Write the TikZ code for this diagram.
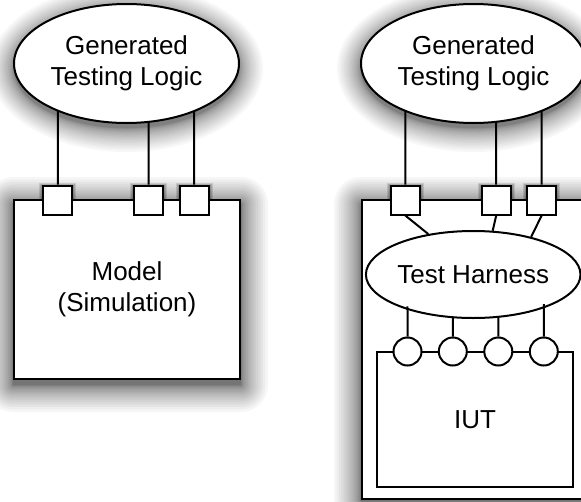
\documentclass[tikz,border=0pt]{standalone}
\usepackage{fontspec}
\setmainfont{Liberation Sans}
\usetikzlibrary{shapes.geometric,intersections}
\pgfdeclarelayer{bg}
\pgfsetlayers{bg,main}
\newcommand\mkrectshadow[1]{%
  \foreach \k in {1,...,20}{%
    \pgfmathsetmacro\dd{27*(\k/20)^2}%
    \fill[black,opacity=0.035,rounded corners=\dd pt]
      ([shift={(-\dd,-\dd+5)}]#1.north west) rectangle ([shift={(\dd,\dd+5)}]#1.south east);
  }}
\newcommand\mkellshadow[3]{%
  \foreach \k in {1,...,20}{%
    \pgfmathsetmacro\dd{24*(\k/20)^2}%
    \fill[black,opacity=0.03]
      ([yshift=-5pt]#1.center) ellipse [x radius=#2+\dd, y radius=#3+\dd];
  }}
\newcommand\mkportshadow[1]{%
  \foreach \dd in {1,2,3}{%
    \fill[black,opacity=0.12]
      ([shift={(-\dd,-\dd+1)}]#1.north west) rectangle ([shift={(\dd,\dd+1)}]#1.south east);
  }}
\begin{document}
\begin{tikzpicture}[x=1pt,y=-1pt,line width=2pt,
  every node/.style={font=\fontsize{26}{31}\selectfont,align=center},
  ellnode/.style={ellipse,draw,fill=white,inner sep=0pt},
  boxnode/.style={rectangle,draw,fill=white,inner sep=0pt},
  port/.style={rectangle,draw,fill=white,minimum size=29pt,inner sep=0pt},
  pin/.style={circle,draw,fill=white,minimum size=28pt,inner sep=0pt},
  wire/.style={draw,line width=2pt}]
\useasboundingbox (0,0) rectangle (581,501);
\clip (0,0) rectangle (581,501);

% ---------- left part ----------
\node[boxnode,minimum width=226pt,minimum height=179pt] (mA) at (127,289.5) {Model\\(Simulation)};
\node[ellnode,minimum width=225pt,minimum height=119pt] (gA) at (126.5,63.5) {Generated\\Testing Logic};
\path[name path=gAp] (gA.center) ellipse [x radius=112.5, y radius=59.5];
\node[port] (pA1) at (57.8,200) {};
\node[port] (pA2) at (148.7,200) {};
\node[port] (pA3) at (194.2,200) {};

% ---------- right part ----------
\node[boxnode,minimum width=230pt,minimum height=298.5pt] (oB) at (477,349.25) {};
\node[ellnode,minimum width=225pt,minimum height=119pt] (gB) at (473.5,63.5) {Generated\\Testing Logic};
\path[name path=gBp] (gB.center) ellipse [x radius=112.5, y radius=59.5];
\node[port] (pB1) at (405.3,200) {};
\node[port] (pB2) at (496.2,200) {};
\node[port] (pB3) at (541.7,200) {};
\node[ellnode,minimum width=193pt,minimum height=87pt] (th) at (473.2,274.5) {Test Harness};
\path[name path=thp] (th.center) ellipse [x radius=96.5, y radius=43.5];
\node[boxnode,minimum width=196pt,minimum height=135.5pt] (iut) at (475,419.25) {IUT};
\node[pin] (cB1) at (407.5,351.5) {};
\node[pin] (cB2) at (452.8,351.5) {};
\node[pin] (cB3) at (498.3,351.5) {};
\node[pin] (cB4) at (543.8,351.5) {};

% ---------- connectors ----------
\foreach \p in {pA1,pA2,pA3} {
  \path[name path=v\p] (\p.north) -- ++(0,-150);
  \draw[wire,name intersections={of=gAp and v\p,by=i\p}] (\p.north) -- (i\p);
}
\foreach \p in {pB1,pB2,pB3} {
  \path[name path=v\p] (\p.north) -- ++(0,-150);
  \draw[wire,name intersections={of=gBp and v\p,by=i\p}] (\p.north) -- (i\p);
}
\draw[wire] (pB1.south) -- (th.138.7);
\draw[wire] (pB2.south) -- (th.66.8);
\draw[wire] (pB3.south) -- (th.33.8);
\foreach \c in {cB1,cB2,cB3,cB4} {
  \path[name path=v\c] (\c.north) -- ++(0,-100);
  \draw[wire,name intersections={of=thp and v\c,by=i\c}] (\c.north) -- (i\c);
}

% ---------- shadows (behind everything) ----------
\begin{pgfonlayer}{bg}
  \fill[white] (0,0) rectangle (581,501);
  \mkrectshadow{mA}
  \mkrectshadow{oB}
  \mkellshadow{gA}{112.5}{59.5}
  \mkellshadow{gB}{112.5}{59.5}
  \mkportshadow{pA1}\mkportshadow{pA2}\mkportshadow{pA3}
  \mkportshadow{pB1}\mkportshadow{pB2}\mkportshadow{pB3}
\end{pgfonlayer}
\end{tikzpicture}
\end{document}
